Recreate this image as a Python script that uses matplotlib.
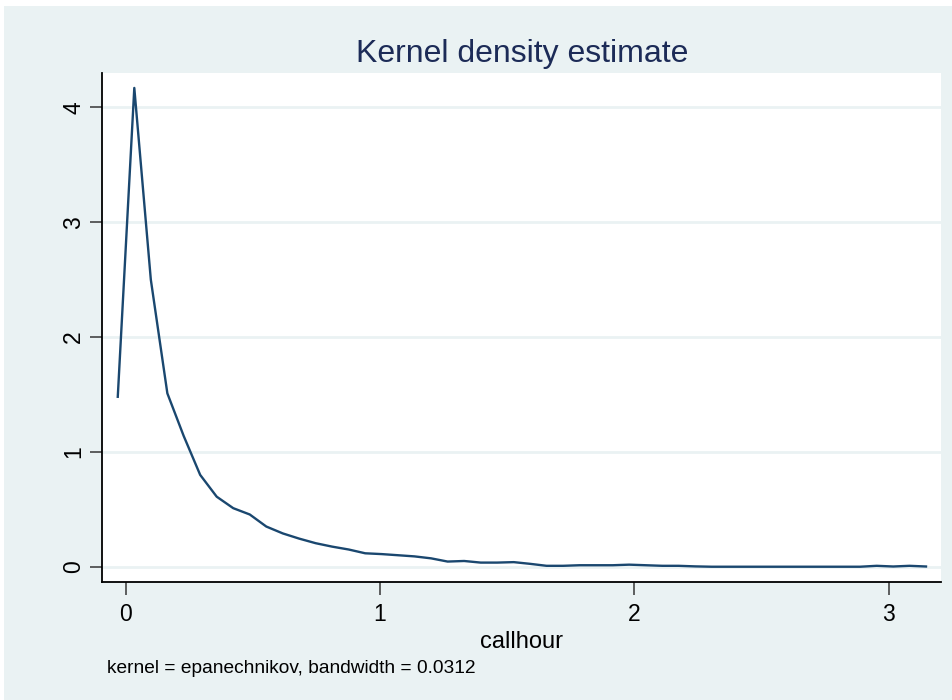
import matplotlib
matplotlib.use("Agg")
import matplotlib.pyplot as plt
from matplotlib.patches import Rectangle

# density estimate evaluated on 50 points of callhour
callhour = [-0.031, 0.034, 0.099, 0.164, 0.228, 0.293, 0.358, 0.423, 0.488, 0.553,
            0.618, 0.682, 0.747, 0.812, 0.877, 0.942, 1.007, 1.072, 1.136, 1.201,
            1.266, 1.331, 1.396, 1.461, 1.526, 1.591, 1.655, 1.720, 1.785, 1.850,
            1.915, 1.980, 2.045, 2.110, 2.174, 2.239, 2.304, 2.369, 2.434, 2.499,
            2.564, 2.628, 2.693, 2.758, 2.823, 2.888, 2.953, 3.018, 3.082, 3.147]
density = [1.48, 4.17, 2.50, 1.51, 1.14, 0.80, 0.61, 0.51, 0.455, 0.35,
           0.29, 0.245, 0.205, 0.175, 0.15, 0.117, 0.11, 0.10, 0.09, 0.073,
           0.045, 0.05, 0.036, 0.036, 0.04, 0.025, 0.008, 0.008, 0.013, 0.013,
           0.013, 0.018, 0.013, 0.008, 0.008, 0.003, 0.0, 0.0, 0.0, 0.0,
           0.0, 0.0, 0.0, 0.0, 0.0, 0.0, 0.008, 0.002, 0.008, 0.002]
xticks = [0, 1, 2, 3]
yticks = [0, 1, 2, 3, 4]

bg = "#EAF2F3"
navy = "#1A476F"
plt.rcParams["font.family"] = ["Liberation Sans", "DejaVu Sans"]

fig = plt.figure(figsize=(9.53, 7.00), dpi=100)
fig.patch.set_facecolor("white")
# graph region, leaving a thin white margin at the top and left
fig.patches.append(Rectangle((4 / 953, 0), 1, 694 / 700, transform=fig.transFigure,
                             facecolor=bg, edgecolor="none", zorder=-5))

ax = fig.add_axes([102 / 953, 118 / 700, 839 / 953, 509 / 700])
ax.set_facecolor("white")
ax.plot(callhour, density, color=navy, lw=1.7, zorder=3)

ax.set_xlim(-0.093, 3.206)
ax.set_ylim(-0.133, 4.30)
ax.set_xticks(xticks)
ax.set_yticks(yticks)
ax.set_xticklabels([str(v) for v in xticks], fontsize=16.5)
ax.set_yticklabels([str(v) for v in yticks], fontsize=16.5, rotation=90, va="center")
ax.tick_params(axis="both", length=9, width=1.2, color="#444444")
ax.tick_params(axis="x", pad=6)
ax.tick_params(axis="y", pad=3)
ax.grid(axis="y", color=bg, lw=2)
ax.set_axisbelow(True)

for side in ["top", "right"]:
    ax.spines[side].set_visible(False)
for side in ["left", "bottom"]:
    ax.spines[side].set_color("black")
    ax.spines[side].set_linewidth(1.3)

ax.set_xlabel("callhour", fontsize=17, labelpad=4)
fig.text(522 / 953, 1 - 62 / 700, "Kernel density estimate", fontsize=23,
         color="#1C2B57", ha="center", va="baseline")
fig.text(107 / 953, 1 - 673 / 700, "kernel = epanechnikov, bandwidth = 0.0312",
         fontsize=13.8, ha="left", va="baseline")

fig.savefig("out.png", dpi=100, facecolor=fig.get_facecolor())
